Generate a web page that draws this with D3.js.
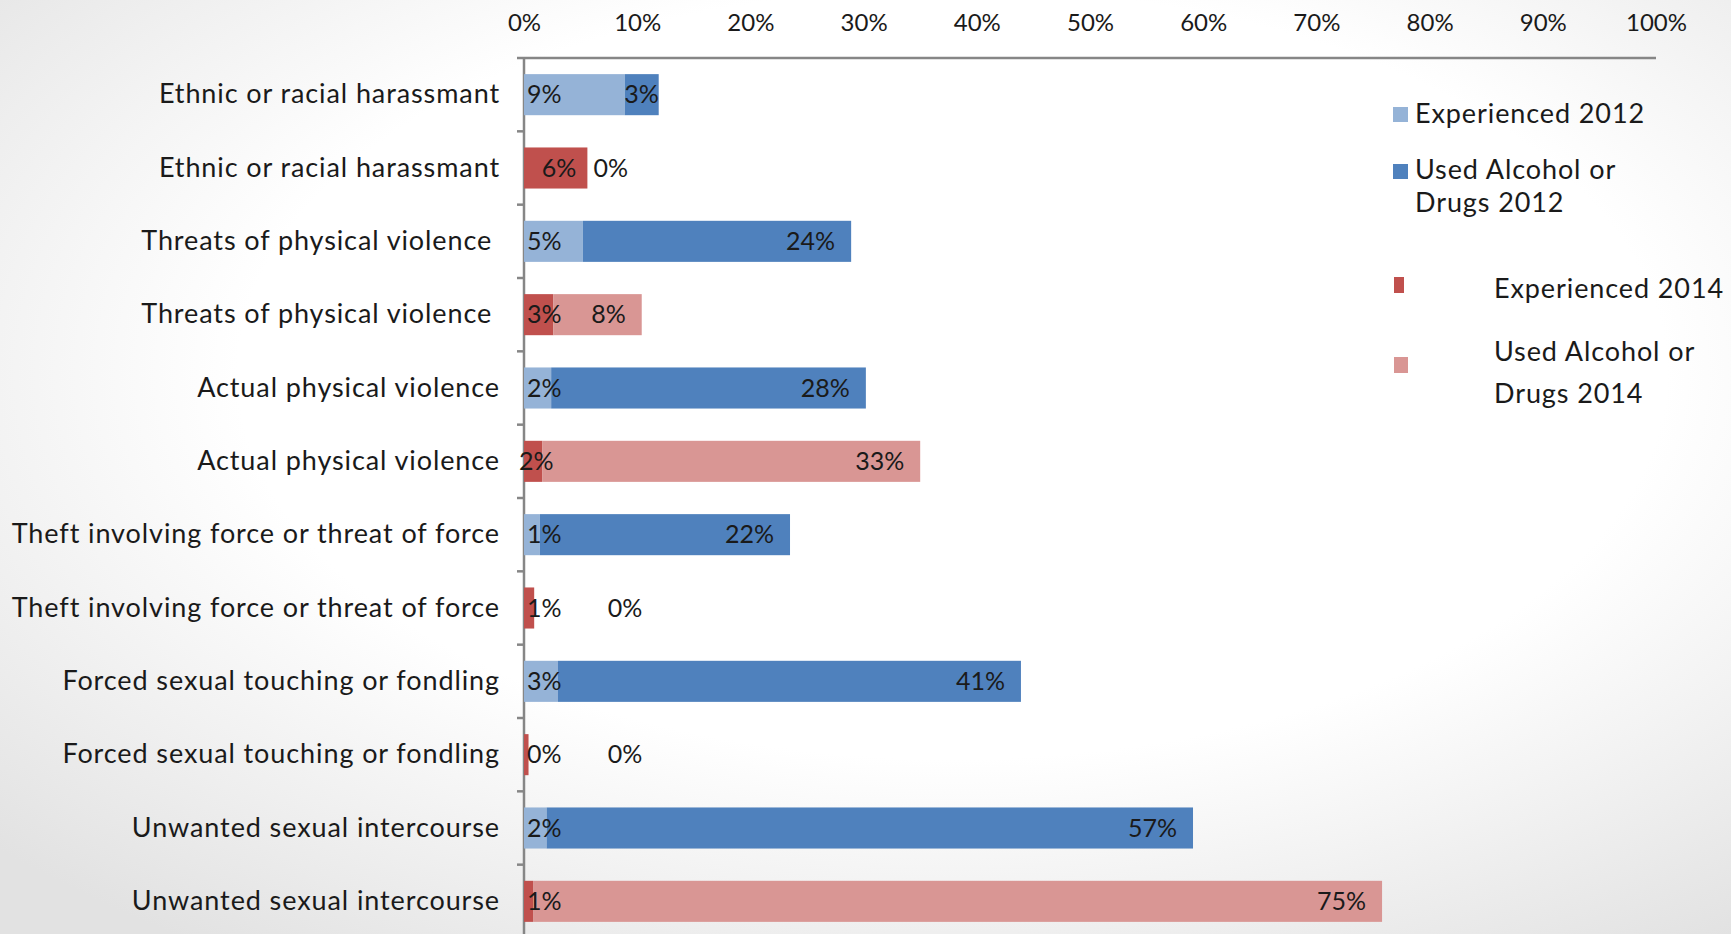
<!DOCTYPE html>
<html>
<head>
<meta charset="utf-8">
<script src="https://cdn.jsdelivr.net/npm/d3@7"></script>
<style>
html,body{margin:0;padding:0;overflow:hidden;}
body{width:1731px;height:934px;}
svg{display:block;}
</style>
</head>
<body>
<svg id="chart" width="1731" height="934"></svg>
<script>
// ---- data ----
const categories = [
  "Ethnic or racial harassmant",
  "Threats of physical violence ",
  "Actual physical violence",
  "Theft involving force or threat of force",
  "Forced sexual touching or fondling",
  "Unwanted sexual intercourse"
];
const experienced2012 = [8.9, 5.2, 2.4, 1.4, 3.0, 2.0];
const used2012        = [3.0, 23.7, 27.8, 22.1, 40.9, 57.1];
const experienced2014 = [5.6, 2.6, 1.6, 0.9, 0.4, 0.8];
const used2014        = [0.0, 7.8, 33.4, 0.0, 0.0, 75.0];
const xTicks = [0,10,20,30,40,50,60,70,80,90,100];
const seriesNames = ["Experienced 2012","Used Alcohol or Drugs 2012","Experienced 2014","Used Alcohol or Drugs 2014"];
const seriesColors = ["#95B3D7","#4F81BD","#C0504D","#D99694"];

// rows: each category -> 2012 row then 2014 row
const rows = [];
categories.forEach((c,i)=>{
  rows.push({id:i*2, label:c, exp:experienced2012[i], used:used2012[i], year:2012});
  rows.push({id:i*2+1, label:c, exp:experienced2014[i], used:used2014[i], year:2014});
});

const svg = d3.select("#chart");
const W = 1731, H = 934;

// background gradient
const defs = svg.append("defs");
const rg = defs.append("radialGradient").attr("id","bg")
  .attr("cx","55%").attr("cy","40%").attr("r","75%");
rg.append("stop").attr("offset","0%").attr("stop-color","#ffffff");
rg.append("stop").attr("offset","55%").attr("stop-color","#ffffff");
rg.append("stop").attr("offset","100%").attr("stop-color","#e2e2e2");
svg.append("rect").attr("width",W).attr("height",H).attr("fill","url(#bg)");

const x = d3.scaleLinear().domain([0,100]).range([524,1656]);
const y = d3.scaleBand().domain(rows.map(r=>r.id)).range([58,938]).paddingInner(0.44).paddingOuter(0.22);
const yStep = y.step();

const font = "Lato, 'Open Sans', sans-serif";
const fmt = v => d3.format(".0f")(v) + "%";

// top axis
const xAxis = svg.append("g").attr("transform","translate(0,58)")
  .call(d3.axisTop(x).tickValues(xTicks).tickSize(0).tickPadding(27).tickFormat(d=>d+"%"));
xAxis.select(".domain").remove();
xAxis.selectAll("text").attr("font-family",font).attr("font-size",24).attr("fill","#1a1a1a");
svg.append("line").attr("x1",517).attr("x2",x(100)).attr("y1",58).attr("y2",58)
  .attr("stroke","#868686").attr("stroke-width",2.5);

// left axis
const yAxis = svg.append("g").attr("transform",`translate(${x(0)},0)`)
  .call(d3.axisLeft(y).tickSize(0).tickPadding(24).tickFormat(id=>rows[id].label));
yAxis.select(".domain").remove();
yAxis.selectAll("text").attr("font-family",font).attr("font-size",27).attr("fill","#1a1a1a")
  .attr("letter-spacing","0.9px").style("white-space","pre");
svg.append("line").attr("x1",x(0)).attr("x2",x(0)).attr("y1",58).attr("y2",H)
  .attr("stroke","#868686").attr("stroke-width",2.5);
// boundary ticks
const bounds = d3.range(1, rows.length+1).map(i=>58 + i*yStep);
svg.append("g").selectAll("line").data(bounds).join("line")
  .attr("x1",x(0)-7).attr("x2",x(0)).attr("y1",d=>d).attr("y2",d=>d)
  .attr("stroke","#868686").attr("stroke-width",2.5);

// bars
const g = svg.append("g");
rows.forEach(r=>{
  const c1 = r.year===2012 ? seriesColors[0] : seriesColors[2];
  const c2 = r.year===2012 ? seriesColors[1] : seriesColors[3];
  const y0 = y(r.id), bh = y.bandwidth();
  g.append("rect").attr("x",x(0)).attr("y",y0).attr("width",x(r.exp)-x(0)).attr("height",bh).attr("fill",c1);
  g.append("rect").attr("x",x(r.exp)).attr("y",y0).attr("width",x(r.exp+r.used)-x(r.exp)).attr("height",bh).attr("fill",c2);
});

// data labels
const lg = svg.append("g").attr("font-family",font).attr("font-size",25).attr("fill","#1a1a1a");
rows.forEach(r=>{
  const cy = y(r.id) + y.bandwidth()/2;
  // experienced label
  let ex = x(0)+3, ea = "start";
  if (r.exp > 5 && r.used < 0.5) { ex = x(r.exp)-11; ea = "end"; }
  if (r.exp < 2 && r.exp >= 1.5) { ex = x(0)-5; }
  lg.append("text").attr("x",ex).attr("y",cy).attr("dy","0.35em").attr("text-anchor",ea).text(fmt(r.exp));
  // used label
  const endX = x(r.exp+r.used);
  let ux, ua;
  if (r.used === 0) {
    ux = r.exp > 3 ? endX + 6 : x(7.4); ua = "start";
  } else if (r.used < 5) {
    ux = endX; ua = "end";
  } else {
    ux = endX - 16; ua = "end";
  }
  lg.append("text").attr("x",ux).attr("y",cy).attr("dy","0.35em").attr("text-anchor",ua).text(fmt(r.used));
});

// legend
const leg = svg.append("g").attr("font-family",font).attr("font-size",27).attr("letter-spacing","0.9px").attr("fill","#1a1a1a");
const legendItems = [
  {sq:[1393,107,15,15], lines:["Experienced 2012"], tx:1415, ty:[123], c:0},
  {sq:[1393,164,15,15], lines:["Used Alcohol or","Drugs 2012"], tx:1415, ty:[179,212], c:1},
  {sq:[1394,277,10,16], lines:["Experienced 2014"], tx:1494, ty:[298], c:2},
  {sq:[1394,357,14,16], lines:["Used Alcohol or","Drugs 2014"], tx:1494, ty:[361,403], c:3}
];
legendItems.forEach(it=>{
  leg.append("rect").attr("x",it.sq[0]).attr("y",it.sq[1]).attr("width",it.sq[2]).attr("height",it.sq[3])
    .attr("fill",seriesColors[it.c]);
  it.lines.forEach((t,k)=>{
    leg.append("text").attr("x",it.tx).attr("y",it.ty[k]).text(t);
  });
});
</script>
</body>
</html>
